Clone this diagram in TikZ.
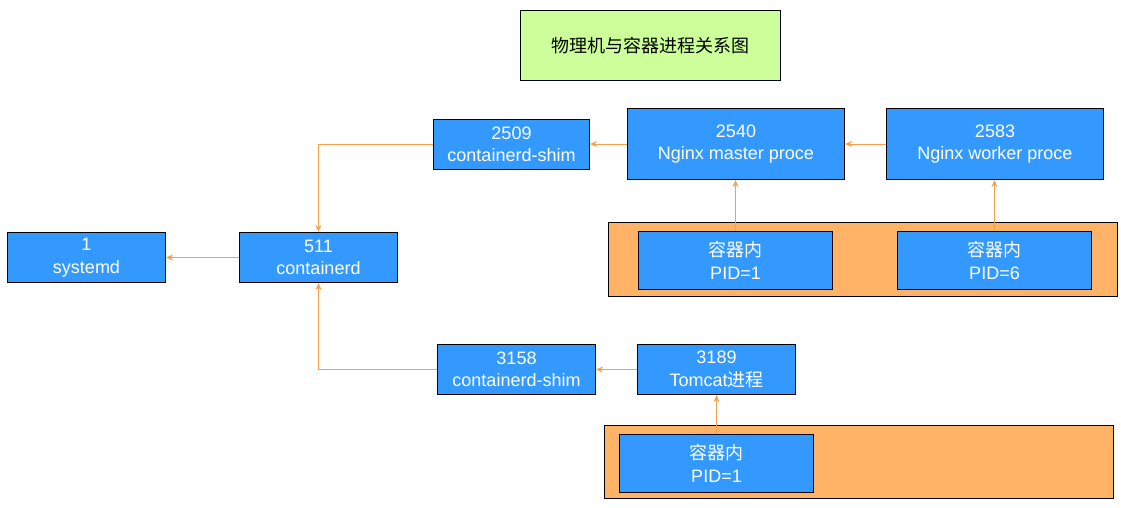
\documentclass[tikz,border=0pt]{standalone}
\usepackage{fontspec}
\setmainfont{Liberation Sans}
\newfontfamily\cjk{Noto Sans CJK SC}
\usetikzlibrary{arrows.meta}
\definecolor{boxblue}{HTML}{3399FF}
\definecolor{contorange}{HTML}{FFB366}
\definecolor{arrowor}{HTML}{F5A04A}
\definecolor{titlegreen}{HTML}{CCFF99}
\tikzset{
  bbox/.style={draw=black, line width=1pt, fill=boxblue, text=white, align=center, font=\fontsize{18}{22.5}\selectfont, inner sep=0pt},
  cbox/.style={draw=black, line width=1pt, fill=contorange},
  conn/.style={draw=arrowor, line width=1pt, -{Stealth[length=7pt,width=6pt]}},
}
\newcommand{\rbox}[6]{\node[bbox, minimum width=#4-#2, minimum height=#5-#3, anchor=north west] (#1) at (#2,#3) {#6};}
\begin{document}
\begin{tikzpicture}[x=1pt,y=-1pt]
\useasboundingbox (0,0) rectangle (1121,507);
% title
\node[draw=black, line width=1pt, fill=titlegreen, minimum width=260, minimum height=70, anchor=north west, inner sep=0pt, font=\cjk\fontsize{18}{22}\selectfont] (title) at (520,10) {物理机与容器进程关系图};
% containers
\node[cbox, minimum width=509, minimum height=74, anchor=north west, inner sep=0pt] (cont1) at (608,222) {};
\node[cbox, minimum width=509, minimum height=73, anchor=north west, inner sep=0pt] (cont2) at (604,425) {};
% boxes
\rbox{shimA}{433}{119}{589}{169}{2509\\containerd-shim}
\rbox{master}{627}{108}{844}{179}{2540\\Nginx master proce}
\rbox{worker}{886}{108}{1103}{179}{2583\\Nginx worker proce}
\rbox{pidA}{638}{231}{832}{289}{{\cjk 容器内}\\PID=1}
\rbox{pidB}{897}{231}{1091}{289}{{\cjk 容器内}\\PID=6}
\rbox{systemd}{7}{232}{165}{282}{1\\systemd}
\rbox{containerd}{239}{232}{397}{282}{511\\containerd}
\rbox{shimB}{437}{344}{595}{394}{3158\\containerd-shim}
\rbox{tomcat}{637}{344}{795}{394}{3189\\Tomcat{\cjk 进程}}
\rbox{pidC}{619}{434}{813}{492}{{\cjk 容器内}\\PID=1}
% connectors
\draw[conn] (shimA.west) -| (containerd.north);
\draw[conn] (shimB.west) -| (containerd.south);
\draw[conn] (containerd.west) -- (systemd.east);
\draw[conn] (master.west) -- (shimA.east |- master.west);
\draw[conn] (worker.west) -- (master.east);
\draw[conn] (pidA.north) -- (master.south -| pidA.north);
\draw[conn] (pidB.north) -- (worker.south -| pidB.north);
\draw[conn] (tomcat.west) -- (shimB.east);
\draw[conn] (pidC.north) -- (tomcat.south -| pidC.north);
\end{tikzpicture}
\end{document}
